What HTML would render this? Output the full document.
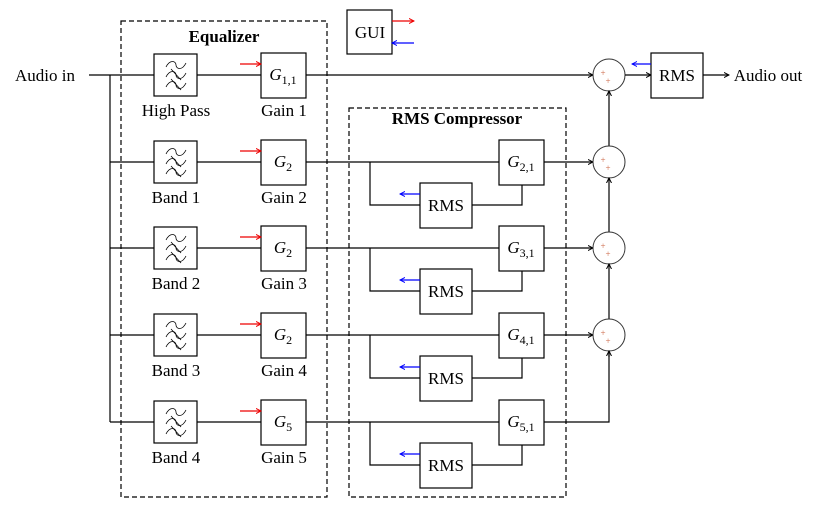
<!DOCTYPE html>
<html><head><meta charset="utf-8"><style>
html,body{margin:0;padding:0;background:#fff;}
svg{display:block;font-family:"Liberation Serif",serif;}
</style></head><body>
<svg id="d" width="819" height="506" viewBox="0 0 819 506" xmlns="http://www.w3.org/2000/svg">
<defs>
<marker id="ak" markerWidth="6" markerHeight="6" refX="5" refY="3" orient="auto" markerUnits="userSpaceOnUse"><path d="M0,0.5 L5,3 L0,5.5" fill="none" stroke="#000" stroke-width="1"/></marker>
<marker id="ar" markerWidth="6" markerHeight="6" refX="5" refY="3" orient="auto" markerUnits="userSpaceOnUse"><path d="M0,0.5 L5,3 L0,5.5" fill="none" stroke="#e00" stroke-width="1"/></marker>
<marker id="ab" markerWidth="6" markerHeight="6" refX="5" refY="3" orient="auto" markerUnits="userSpaceOnUse"><path d="M0,0.5 L5,3 L0,5.5" fill="none" stroke="#00f" stroke-width="1"/></marker>
</defs>
<g id="g" stroke="#000" stroke-width="1.2" fill="none"></g>
</svg>
<script>
const rowY=[75,162,248,335,422];
const filterLabels=["High Pass","Band 1","Band 2","Band 3","Band 4"];
const gainLabels=["Gain 1","Gain 2","Gain 3","Gain 4","Gain 5"];
const gainMain=["G","G","G","G","G"];
const gainSubs=["1,1","2","2","2","5"];
const compSubs=["2,1","3,1","4,1","5,1"];
const NS="http://www.w3.org/2000/svg";
const g=document.getElementById('g');
function mk(tag,attrs,name,parent){const e=document.createElementNS(NS,tag);for(const k in attrs)e.setAttribute(k,attrs[k]);


(parent||g).appendChild(e);return e;}
function line(x1,y1,x2,y2,name,col,mark){const a={x1,y1,x2,y2};if(col)a.stroke=col;if(mark)a['marker-end']='url(#'+mark+')';return mk('line',a,name);}
function poly(pts,name){return mk('polyline',{points:pts.map(p=>p.join(',')).join(' ')},name);}
function rect(x,y,w,h,name,dash){const a={x,y,width:w,height:h,fill:'#fff'};if(dash)a['stroke-dasharray']='5,3';return mk('rect',a,name);}
function text(x,y,s,name,opt){const t=mk('text',Object.assign({x,y,'text-anchor':'middle',fill:'#000',stroke:'none','font-size':17},opt||{}),name);t.textContent=s;return t;}
function gtext(x,y,main,sub,name){const t=mk('text',{x,y,'text-anchor':'middle',fill:'#000',stroke:'none','font-size':17,'font-style':'italic'},name);
const a=document.createElementNS(NS,'tspan');a.textContent=main;t.appendChild(a);
const b=document.createElementNS(NS,'tspan');b.setAttribute('font-size','12');b.setAttribute('font-style','normal');b.setAttribute('dy','4');b.textContent=sub;t.appendChild(b);}
rect(121,21,206,476,'equalizer-group',true);
text(224,42,'Equalizer','equalizer-title',{'font-weight':'bold'});
rect(349,108,217,389,'rms-compressor-group',true);
text(457,124,'RMS Compressor','rms-compressor-title',{'font-weight':'bold'});
text(45,81,'Audio in','audio-in-label');
line(89,75,154,75,'input-line');
line(110,75,110,rowY[rowY.length-1],'input-trunk');
const sumX=609,r=16;
rowY.forEach((y,i)=>{
  if(i>0) line(110,y,154,y,'filter-input-line-'+(i+1));
  rect(154,y-21,43,42,'filter-'+(i+1));
  for(let k=-1;k<=1;k++){
    const yy=y+k*10;
    mk('path',{d:`M166,${yy+2} C170,${yy-6} 176,${yy-4} 176,${yy} S182,${yy+6} 186,${yy-2}`,'stroke-width':0.8},'filter-wave-'+(i+1));
    if(k>=0) mk('line',{x1:171,y1:yy-6,x2:181,y2:yy+5,'stroke-width':0.8},'filter-wave-cross-'+(i+1));
  }
  text(176,y+41,filterLabels[i],'filter-label-'+(i+1));
  line(197,y,261,y,'filter-to-gain-'+(i+1));
  rect(261,y-22,45,45,'gain-block-'+(i+1));
  gtext(283,y+5,gainMain[i],gainSubs[i],'gain-symbol-'+(i+1));
  text(284,y+41,gainLabels[i],'gain-label-'+(i+1));
  line(240,y-11,261,y-11,'gain-control-arrow-'+(i+1),'#e00','ar');
  if(i===0){
    line(306,y,sumX-r,y,'gain1-to-sum','#000','ak');
  } else {
    const cy=y+43;
    line(306,y,499,y,'gain-to-comp-'+(i+1));
    poly([[370,y],[370,cy],[420,cy]],'rms-branch-'+(i+1));
    rect(420,cy-22,52,45,'rms-detector-'+(i+1));
    text(446,cy+6,'RMS','rms-detector-label-'+(i+1));
    line(420,cy-11,400,cy-11,'rms-detector-output-'+(i+1),'#00f','ab');
    poly([[472,cy],[522,cy],[522,y+22]],'rms-control-line-'+(i+1));
    rect(499,y-22,45,45,'comp-gain-'+(i+1));
    gtext(521,y+5,'G',compSubs[i-1],'comp-gain-symbol-'+(i+1));
    if(i<rowY.length-1) line(544,y,sumX-r,y,'comp-to-sum-'+(i+1),'#000','ak');
    else poly([[544,y],[sumX,y],[sumX,rowY[i-1]+r]],'last-to-sum');
  }
});
for(let i=0;i<rowY.length-1;i++){
  const y=rowY[i];
  mk('circle',{cx:sumX,cy:y,r:r,fill:'#fff','stroke-width':1,stroke:'#333'},'sum-node-'+(i+1));
  text(sumX-6,y+1,'+','sum-plus-a-'+(i+1),{'font-size':9,fill:'#c64'});
  text(sumX-1,y+9,'+','sum-plus-b-'+(i+1),{'font-size':9,fill:'#c64'});
  if(i<rowY.length-2) line(sumX,rowY[i+1]-r,sumX,y+r,'sum-chain-'+(i+1),'#000','ak');
}
line(sumX,rowY[3]+r+6,sumX,rowY[3]+r,'last-sum-arrow','#000','ak');
line(sumX+r,75,651,75,'sum-to-rms','#000','ak');
rect(651,53,52,45,'output-rms');
text(677,81,'RMS','output-rms-label');
line(651,64,632,64,'output-rms-feedback','#00f','ab');
line(703,75,729,75,'output-line','#000','ak');
text(768,81,'Audio out','audio-out-label');
rect(347,10,45,44,'gui-block');
text(370,38,'GUI','gui-label');
line(392,21,414,21,'gui-output-arrow','#e00','ar');
line(414,43,392,43,'gui-input-arrow','#00f','ab');
</script>
</body></html>
